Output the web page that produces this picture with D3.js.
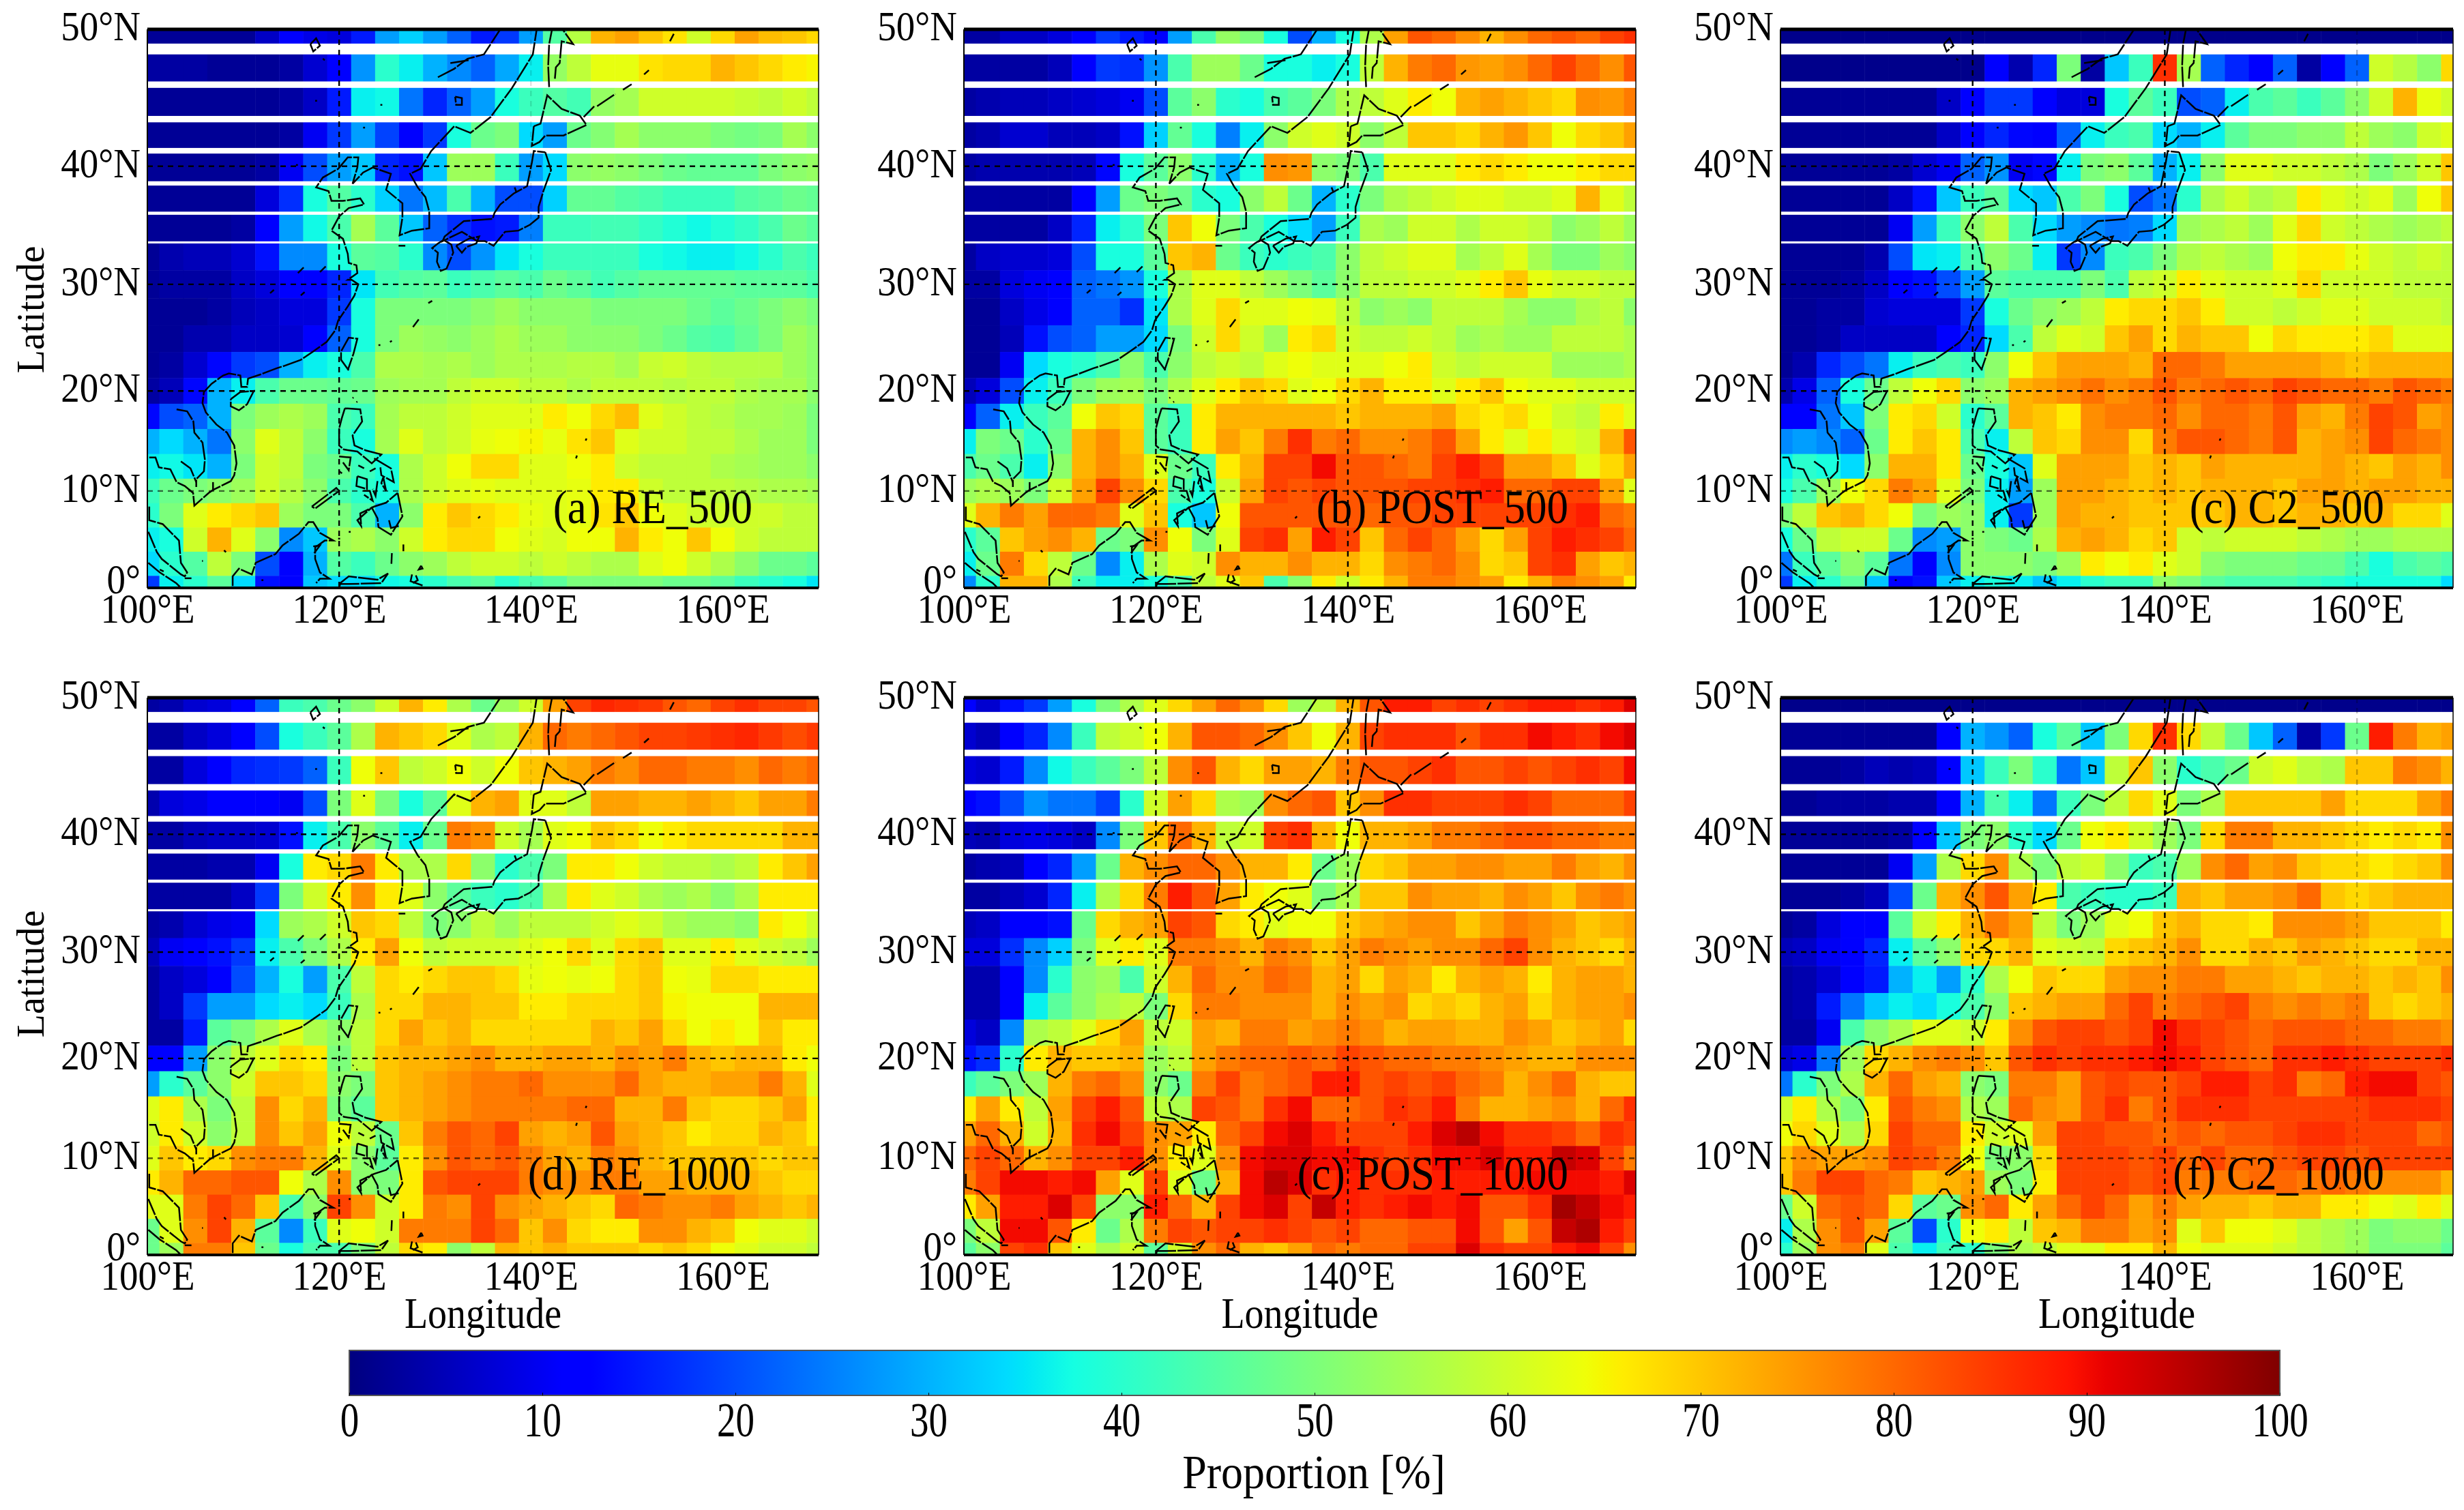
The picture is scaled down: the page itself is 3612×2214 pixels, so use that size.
<!DOCTYPE html>
<html>
<head>
<meta charset="utf-8">
<script src="https://cdn.jsdelivr.net/npm/d3@7"></script>
<style>
  body { margin: 0; background: #fff; }
  text { font-family: "Liberation Serif", serif; fill: #000; }
</style>
</head>
<body>
<svg id="chart"></svg>
<script>
// grid of the maps, one cell every 2.5 degrees
var lons = [100,102.5,105,107.5,110,112.5,115,117.5,120,122.5,125,127.5,130,132.5,135,137.5,140,142.5,145,147.5,150,152.5,155,157.5,160,162.5,165,167.5,170];
var lats = [50,47.5,45,42.5,40,37.5,35,32.5,30,27.5,25,22.5,20,17.5,15,12.5,10,7.5,5,2.5,0];

var lonTicks = [100, 120, 140, 160];
var lonLabels = ["100°E", "120°E", "140°E", "160°E"];
var latTicks = [0, 10, 20, 30, 40, 50];
var latLabels = ["0°", "10°N", "20°N", "30°N", "40°N", "50°N"];
var barTicks = [0, 10, 20, 30, 40, 50, 60, 70, 80, 90, 100];

var panelTitles = ["(a) RE_500", "(b) POST_500", "(c) C2_500", "(d) RE_1000", "(c) POST_1000", "(f) C2_1000"];

// rows run from 50N down to 0
var re500 = [
[2,2,2,2,2,6,11,9,8,15,28,33,28,22,15,18,28,45,57,72,74,70,67,60,68,74,71,70,68],
[3,3,3,2,2,2,3,7,12,27,40,36,30,26,22,29,36,53,58,63,63,67,68,68,72,70,68,66,65],
[2,2,2,2,2,2,3,6,15,36,37,24,16,22,28,38,42,45,43,53,55,60,60,60,60,59,58,60,58],
[2,2,2,2,2,2,3,10,18,28,19,12,18,38,48,50,34,28,48,51,55,52,52,52,50,49,50,55,52],
[2,2,2,2,2,3,10,20,28,32,16,14,32,54,54,42,28,34,52,53,52,50,48,47,47,47,50,52,53],
[2,2,2,2,2,8,17,38,45,40,33,24,31,44,30,20,20,33,47,47,45,44,42,42,42,45,46,48,47],
[2,2,2,2,3,12,28,37,44,55,46,32,22,17,14,15,25,42,42,43,43,41,39,37,39,41,44,48,46],
[2,4,5,5,7,14,26,26,38,46,45,40,26,20,27,35,38,42,42,42,42,38,37,36,36,37,40,44,42],
[2,3,3,3,6,8,11,12,16,35,43,45,46,42,44,46,44,48,46,43,45,47,47,47,47,46,46,46,44],
[2,2,2,3,5,6,8,8,18,38,50,50,50,50,52,54,52,52,52,50,50,50,50,48,46,48,50,52,50],
[2,2,4,4,6,6,7,11,22,38,50,54,53,52,54,56,54,54,52,52,52,50,48,45,44,47,50,54,52],
[2,3,7,13,18,20,30,36,38,44,56,56,55,56,54,56,56,56,57,57,55,59,60,58,57,57,57,54,52],
[3,5,13,30,36,44,48,48,47,48,54,55,55,58,60,60,58,58,56,58,58,58,57,58,58,56,55,55,52],
[13,20,22,30,50,54,56,54,44,42,55,58,58,60,62,62,62,66,64,68,71,62,60,58,57,55,55,54,50],
[30,34,30,24,52,62,58,52,42,38,55,62,58,60,63,64,65,63,67,70,62,60,60,58,58,56,54,54,50],
[36,37,35,30,50,60,58,50,48,42,38,56,60,64,68,68,62,62,64,66,60,58,58,58,56,55,54,54,52],
[42,48,50,52,54,60,57,52,44,40,38,56,60,62,63,62,62,62,63,66,66,60,58,58,58,57,56,56,55],
[40,50,62,66,68,70,54,50,50,44,30,52,66,70,68,66,63,62,63,67,70,64,62,60,60,60,60,58,58],
[36,38,60,72,62,52,26,32,54,56,52,60,66,68,68,64,62,61,64,64,72,66,64,70,64,60,58,58,58],
[34,40,45,58,50,20,11,30,45,42,48,52,54,58,60,60,58,60,58,56,56,62,64,60,56,52,48,48,46],
[18,36,40,46,34,14,12,32,34,34,37,38,40,44,46,40,44,46,50,50,50,50,48,48,46,42,40,38,35]
];

var post500 = [
[3,3,6,6,8,11,18,15,12,28,44,53,50,38,20,30,38,56,74,82,80,76,72,76,80,82,80,84,86],
[3,3,3,3,5,11,18,17,27,44,54,54,48,38,38,36,38,58,72,78,80,75,74,76,80,84,80,76,82],
[3,4,5,5,6,7,8,10,20,46,52,40,38,44,46,50,56,58,62,66,64,72,74,72,70,68,76,75,78],
[3,4,7,7,5,5,6,14,33,47,38,25,36,52,60,62,60,52,58,70,70,68,72,75,70,64,68,70,74],
[3,4,4,4,4,5,13,38,46,52,40,30,38,76,75,52,50,44,62,62,62,66,68,66,64,64,66,68,68],
[3,3,3,3,3,11,28,48,50,48,40,38,52,58,48,30,40,50,56,58,60,62,62,60,60,62,72,62,58],
[3,3,3,3,6,16,36,40,50,70,64,50,44,38,34,28,42,56,54,60,60,56,60,60,58,52,54,58,54],
[3,6,7,7,8,20,38,38,46,70,72,48,42,40,42,44,52,58,60,62,62,55,58,62,55,50,50,54,52],
[3,3,8,10,12,22,24,27,38,56,62,62,58,54,50,46,52,58,58,60,60,62,66,70,63,60,60,58,58],
[2,2,6,9,12,22,22,17,35,56,62,68,62,62,64,63,58,52,54,52,58,58,58,55,52,52,56,58,52],
[2,2,5,14,20,22,28,28,34,50,60,68,60,54,66,68,60,58,58,60,58,54,56,54,54,58,58,58,56],
[2,2,10,34,38,40,44,52,44,52,58,60,58,62,64,62,62,62,64,66,60,58,60,60,60,54,54,54,56],
[5,8,20,36,42,50,54,55,50,56,62,66,70,68,62,64,68,72,66,66,62,66,70,64,62,62,60,60,60],
[12,22,36,42,46,64,70,68,46,42,66,72,72,72,72,72,70,72,72,72,74,68,66,68,64,60,58,66,62],
[36,50,48,40,48,72,76,70,46,42,66,74,70,78,86,78,80,76,76,78,82,74,66,62,66,62,60,72,82],
[44,48,44,36,52,72,76,72,62,48,42,66,72,84,84,90,82,82,80,78,84,88,84,74,74,70,62,68,74],
[54,56,54,50,60,74,84,76,68,44,38,60,74,84,82,84,82,82,82,84,84,86,88,80,80,84,84,74,62],
[62,72,78,74,80,80,78,62,70,38,32,64,82,82,82,82,82,80,82,82,84,84,84,84,84,86,88,80,78],
[40,46,70,74,76,72,48,50,76,64,50,62,84,86,74,88,84,70,80,84,80,74,68,74,84,88,86,84,80],
[36,48,78,68,58,48,26,36,56,62,60,76,72,72,76,72,72,68,76,78,80,76,68,70,84,86,74,70,72],
[26,40,72,72,56,42,36,36,38,44,58,62,70,44,52,66,60,66,72,78,78,76,74,66,72,78,76,74,66]
];

var c2500 = [
[1,1,1,1,1,1,1,1,1,1,1,1,1,1,1,1,1,1,1,1,1,1,1,1,1,1,1,1,1],
[1,1,1,1,1,1,1,1,1,11,4,16,50,3,32,42,86,55,22,16,12,22,3,11,22,60,57,52,68],
[2,2,2,2,2,2,2,6,12,18,18,12,8,8,38,46,42,20,22,36,44,46,42,46,52,60,72,63,60],
[2,2,2,2,2,2,2,6,12,16,13,11,22,36,42,44,34,30,36,46,50,50,52,52,58,54,52,60,62],
[2,2,2,2,2,3,7,10,22,27,10,13,36,50,52,46,30,36,52,62,62,60,60,58,56,50,54,60,70],
[2,2,2,2,2,6,14,32,42,46,34,32,44,50,38,20,24,40,56,60,56,58,66,62,60,62,54,64,70],
[2,2,2,2,2,10,28,42,52,58,44,34,28,26,24,25,34,54,56,58,54,62,68,60,58,56,54,56,58],
[2,2,2,2,4,20,35,36,44,52,48,36,18,26,42,44,50,56,58,56,54,64,66,66,63,60,58,60,58],
[2,2,2,3,6,12,14,20,28,46,44,44,44,50,44,58,60,66,62,60,60,62,68,60,60,60,58,58,58],
[2,2,3,3,7,8,8,8,18,38,48,52,54,58,66,68,68,70,66,60,60,58,60,62,62,60,60,60,58],
[2,2,3,6,6,6,6,12,16,34,44,58,62,60,70,74,68,72,70,70,64,68,66,66,66,68,62,62,62],
[2,4,16,20,24,36,42,44,42,52,64,70,74,74,74,72,80,80,78,74,74,74,74,72,70,72,72,72,72],
[4,9,22,38,48,58,64,68,52,54,72,74,76,79,76,78,82,78,80,82,80,84,82,80,80,78,82,80,78],
[12,12,24,32,50,66,68,60,40,46,72,70,66,76,78,78,80,76,80,80,78,82,74,72,78,84,82,74,76],
[26,28,26,22,48,66,70,66,44,36,58,70,68,76,76,68,78,82,82,80,78,82,72,74,76,84,80,78,76],
[36,40,38,34,52,72,72,66,48,38,32,62,74,74,74,70,72,70,74,72,72,72,72,74,72,70,74,72,76],
[38,44,54,64,68,78,74,62,50,36,28,54,74,74,72,70,72,70,72,72,72,70,74,74,72,74,74,72,72],
[50,58,70,72,68,64,50,54,52,36,18,54,74,72,72,70,70,70,70,72,72,70,72,72,70,72,68,68,62],
[38,48,58,60,60,48,26,28,52,50,48,56,72,74,72,68,70,60,58,60,60,60,58,56,54,54,56,56,56],
[24,42,46,52,46,24,11,26,52,52,52,50,54,66,64,66,62,60,52,50,50,50,48,48,44,38,44,46,44],
[18,36,40,46,32,12,14,32,36,38,36,32,36,40,42,42,52,50,46,44,44,44,42,40,38,38,38,38,34]
];

var re1000 = [
[3,4,7,8,12,22,42,44,48,52,60,72,66,56,48,54,60,74,84,87,86,85,82,80,84,86,84,84,82],
[3,3,6,8,12,20,38,42,46,56,72,70,68,62,56,58,72,80,78,80,82,84,84,85,86,87,85,83,85],
[3,3,8,12,16,17,18,22,42,64,70,58,60,64,60,64,70,72,74,78,76,80,80,78,78,76,80,78,80],
[4,8,9,11,12,12,10,20,50,62,50,38,46,62,72,74,62,62,58,74,74,72,72,74,72,70,74,74,78],
[3,3,5,6,6,7,14,36,44,52,46,36,48,78,76,60,55,62,64,70,68,64,66,68,68,68,68,72,72],
[3,3,3,4,4,10,38,66,68,78,66,56,56,68,52,40,44,50,66,66,64,60,58,58,56,58,66,70,74],
[3,3,3,3,6,18,50,60,66,76,66,62,52,46,42,40,44,56,66,62,60,56,54,56,52,56,66,66,66],
[3,4,7,9,10,34,54,56,60,70,68,58,50,52,58,54,58,58,58,60,62,60,56,54,54,52,66,64,60],
[5,10,12,14,18,36,44,50,56,66,74,64,58,60,60,60,62,64,68,62,68,70,62,62,66,62,60,58,54],
[3,6,8,12,20,30,38,28,44,58,68,66,68,70,70,68,63,64,63,64,68,70,64,63,68,68,66,66,66],
[3,6,18,28,28,34,36,34,42,56,68,68,72,72,70,70,66,66,68,68,68,70,65,64,64,64,72,72,72],
[3,3,15,46,50,56,62,56,52,58,68,74,70,72,68,68,68,68,68,72,70,74,68,64,66,64,70,66,66],
[11,11,28,52,58,62,68,66,50,58,70,72,72,74,76,72,72,74,74,72,76,74,78,72,70,72,72,66,64],
[28,40,46,52,60,70,70,68,52,50,70,72,74,76,78,78,80,76,76,76,80,74,72,72,74,74,78,72,62],
[62,66,56,50,58,76,68,72,50,46,70,72,74,76,78,78,78,78,80,80,72,72,78,70,68,68,70,74,66],
[60,66,60,52,58,76,70,74,64,58,48,70,78,82,80,84,74,72,74,82,74,72,70,66,68,68,72,70,66],
[62,70,66,68,76,78,78,72,62,52,46,66,76,82,80,82,78,74,72,78,76,72,70,70,70,70,68,70,70],
[66,72,80,80,82,82,64,56,76,52,50,66,82,84,84,84,78,76,76,78,78,74,74,72,72,72,70,68,68],
[62,62,78,84,80,70,44,52,84,76,60,66,78,76,84,76,74,72,70,68,80,78,76,76,78,74,72,70,72],
[48,62,76,84,72,46,26,42,62,64,60,78,78,78,84,80,70,76,68,66,66,76,76,72,70,64,62,62,60],
[48,54,78,78,70,48,38,44,44,50,58,68,66,52,58,72,70,72,70,70,70,68,70,68,64,62,60,60,58]
];

var post1000 = [
[12,7,14,18,28,38,50,56,62,68,74,80,76,68,54,58,72,82,88,88,84,86,84,86,88,88,86,88,92],
[7,5,11,16,26,42,58,60,64,72,82,82,80,76,70,64,72,84,86,86,86,82,86,86,90,88,86,90,92],
[8,7,15,26,37,42,46,50,58,76,82,72,68,74,74,72,78,82,82,84,86,82,82,84,82,84,86,84,90],
[12,14,20,27,24,24,19,40,60,74,68,56,54,76,80,82,70,76,86,86,84,84,84,86,84,80,80,80,84],
[5,4,8,9,8,6,26,50,70,80,72,58,60,84,86,72,64,72,72,74,78,78,80,82,82,80,80,78,78],
[3,4,5,11,16,28,48,72,76,80,80,76,72,72,66,48,54,68,70,74,74,76,76,74,74,78,74,72,76],
[3,3,5,7,16,36,56,68,78,88,82,74,66,64,62,50,56,70,70,76,74,74,72,76,74,70,76,78,76],
[5,6,11,11,14,48,68,72,74,84,82,68,66,62,64,64,70,72,74,76,76,70,74,78,76,74,70,72,74],
[8,8,17,26,33,50,62,66,62,78,78,76,72,78,76,70,74,78,76,74,76,76,80,84,76,72,70,68,72],
[4,4,12,26,40,52,54,44,60,72,80,76,76,80,78,72,74,68,74,72,66,72,74,72,66,72,74,74,72],
[4,4,12,36,46,52,56,58,50,68,78,78,76,76,76,72,76,74,76,68,70,68,72,74,68,72,74,74,76],
[8,6,26,56,58,62,68,74,58,60,74,72,78,78,74,76,78,76,72,74,74,72,72,76,74,70,72,74,68],
[14,17,40,66,72,70,70,72,54,58,74,78,80,80,82,80,84,82,80,80,78,78,76,74,72,72,76,76,76],
[42,46,50,54,72,78,80,76,52,48,78,84,78,80,82,88,88,82,84,82,84,80,78,72,76,80,72,70,70],
[66,74,66,58,74,84,88,82,58,56,84,82,78,86,90,80,80,82,86,84,88,78,72,72,74,76,72,80,86],
[74,80,72,60,72,86,90,84,76,74,66,80,84,90,92,88,84,84,84,88,92,95,90,86,86,84,80,86,84],
[80,84,80,72,76,84,84,88,76,66,62,76,90,92,92,90,90,86,84,86,90,90,92,88,88,94,92,84,78],
[78,84,90,90,88,90,74,62,84,62,48,72,90,95,92,86,88,86,86,86,88,88,88,88,90,90,90,88,92],
[66,74,88,88,92,84,52,52,88,80,72,84,90,92,84,94,88,86,88,90,88,90,82,82,86,97,94,90,88],
[50,58,90,90,82,66,48,56,78,84,82,84,84,86,84,82,84,80,80,82,82,90,82,74,82,94,96,88,84],
[46,52,84,86,70,62,56,60,46,60,76,80,72,70,74,80,78,80,80,84,84,92,86,84,84,88,90,84,76]
];

var c21000 = [
[1,1,1,1,1,1,1,1,1,1,1,1,1,1,1,1,1,1,1,1,1,1,1,1,1,1,1,1,1],
[2,2,2,2,2,2,2,12,30,27,22,38,46,32,50,68,86,68,58,48,32,22,3,18,48,88,78,72,74],
[2,2,2,3,5,4,5,12,32,42,50,40,24,32,58,70,52,40,44,48,60,62,58,56,70,70,78,76,72],
[2,2,3,3,3,4,4,12,30,44,36,24,42,50,58,68,62,50,56,70,70,70,70,74,68,68,68,74,78],
[2,2,2,2,2,3,12,32,50,52,40,34,48,64,66,60,54,50,68,78,78,72,72,70,68,66,68,66,76],
[2,2,2,2,2,10,28,56,68,76,56,50,58,60,52,42,44,54,76,80,74,76,70,68,68,66,68,70,76],
[2,2,2,3,5,20,48,72,76,82,74,66,44,42,40,40,42,72,70,74,74,76,80,70,68,70,72,72,72],
[2,3,8,11,12,46,60,66,72,78,74,58,50,54,62,64,70,72,68,68,66,76,76,76,74,70,70,70,66],
[5,6,10,12,16,36,46,52,68,68,72,62,60,58,68,70,72,76,68,68,72,70,74,72,70,68,68,72,72],
[3,4,7,11,15,30,36,28,40,56,64,70,68,68,74,76,76,78,78,74,74,72,70,72,72,70,72,70,76],
[3,4,15,24,32,36,34,38,44,52,70,72,74,74,80,84,78,80,82,84,78,76,78,76,78,70,68,70,72],
[3,3,10,44,52,56,62,62,60,66,76,82,84,84,82,84,90,86,84,82,80,82,82,82,80,80,78,78,76],
[7,9,24,54,68,72,76,78,76,70,82,86,84,86,86,88,90,88,84,82,80,86,86,88,86,84,84,84,86],
[24,40,50,56,72,80,74,72,52,50,78,78,74,82,84,82,82,84,88,88,84,86,78,80,88,90,90,84,82],
[60,66,56,50,66,82,78,76,56,54,80,76,74,82,86,78,82,86,86,86,84,84,84,84,84,86,86,86,84],
[64,68,62,56,68,84,80,80,66,60,62,74,84,84,82,82,80,82,80,82,82,84,86,86,84,84,84,80,82],
[70,76,74,74,76,84,82,78,64,50,52,68,84,84,84,82,84,80,84,80,80,82,84,84,82,84,84,84,84],
[70,78,84,84,80,78,70,72,74,54,50,66,84,84,84,82,84,78,78,78,80,80,78,80,78,76,76,76,72],
[48,60,80,82,80,68,46,48,76,80,66,74,80,84,80,74,78,74,72,72,70,72,72,66,66,64,62,66,62],
[36,56,76,82,74,46,20,40,64,66,58,70,72,78,78,74,76,62,70,64,64,62,58,56,54,50,52,52,48],
[40,54,76,78,62,44,36,42,40,50,56,58,62,62,66,66,72,64,62,62,62,60,58,56,54,50,50,50,46]
];

var panelValues = [re500, post500, c2500, re1000, post1000, c21000];

// latitude bands left white, no data there
var stripeBottoms = [48.3, 45.94, 43.4, 41.0, 38.45, 36.04, 33.6];
var stripeTops = [49.04, 46.4, 43.88, 41.44, 38.8, 36.3, 33.78];

// jet colours along the colour bar
var colorStops = [0, 11, 12.5, 34, 35, 37.5, 64, 65, 66, 89, 91, 100];
var colorList = ["#00007f", "#0000ff", "#0000ff", "#00dbff", "#00e6f7", "#15ffe2", "#efff08", "#f7f600", "#ffec00", "#ff1300", "#e80000", "#800000"];

// coastlines, [lon, lat]
var coasts = [
 // thai gulf, indochina, china, korea, russia
 [[100.2,13.4],[100.85,13.4],[101.2,12.4],[102.4,12.2],[103.05,10.9],[103.9,10.5],[104.77,9.8],[104.9,8.5],[106.4,9.8],[106.85,10.1],[108.7,11.0],[109.06,11.6],[109.3,12.8],[109.06,14.6],[108.3,15.9],[107.2,16.7],[106.1,17.9],[105.75,18.8],[105.9,19.9],[106.7,20.7],[107.9,21.5],[108.5,21.7],[109.7,21.5],[109.8,20.4],[110.4,20.4],[110.5,21.2],[111.8,21.6],[113.5,22.2],[114.2,22.4],[116.0,23.0],[117.3,23.8],[118.7,24.7],[119.6,25.8],[119.9,26.7],[120.9,28.0],[121.6,29.0],[122.0,30.0],[121.3,30.4],[120.9,30.4],[121.9,31.0],[121.8,31.7],[121.0,31.9],[120.9,32.7],[120.4,34.0],[119.2,34.7],[120.0,35.9],[121.0,36.6],[122.6,36.9],[122.2,37.4],[120.4,37.2],[119.2,37.2],[118.9,38.0],[117.6,38.3],[118.3,39.1],[119.9,39.8],[120.9,40.7],[122.0,40.7],[121.9,39.9],[121.4,38.6],[122.5,39.5],[123.5,39.9],[125.4,39.4],[124.9,38.1],[126.6,37.0],[126.6,35.8],[126.3,34.3],[127.6,34.7],[129.4,34.9],[129.4,36.3],[129.0,37.5],[128.2,38.3],[127.4,39.4],[128.5,39.8],[129.6,41.2],[132.0,43.1],[133.7,42.6],[135.8,43.8],[138.0,45.9],[140.2,48.3],[140.6,50.0]],
 // malay peninsula
 [[100.2,8.4],[100.2,7.0],[101.6,6.6],[103.3,4.9],[103.5,2.6],[104.15,1.6],[103.9,1.2],[103.5,1.4],[101.5,3.0],[101.0,3.7],[100.1,5.8]],
 // sakhalin
 [[141.9,46.0],[141.8,47.5],[141.9,49.0],[142.2,50.0]],
 [[142.5,46.6],[142.6,47.4],[143.0,47.7],[143.2,49.2],[144.4,49.0],[143.3,50.0]],
 // hokkaido
 [[140.3,43.1],[141.0,43.3],[141.7,45.4],[143.2,44.4],[145.1,43.9],[145.8,43.2],[143.4,42.4],[141.5,42.4],[140.9,41.9],[140.1,41.6],[140.3,43.1]],
 // honshu
 [[141.5,41.1],[142.1,39.7],[141.3,38.0],[140.8,36.7],[140.8,35.8],[139.9,35.2],[138.7,34.7],[137.3,34.6],[136.1,33.4],[135.2,33.8],[134.4,33.8],[132.8,34.6],[130.8,33.8],[131.0,34.2],[133.0,35.5],[136.0,35.7],[136.2,36.2],[136.8,36.9],[138.2,37.8],[139.6,38.4],[140.1,40.3],[140.3,41.2],[141.5,41.1]],
 // shikoku
 [[132.2,33.4],[133.5,34.0],[134.6,34.2],[134.3,33.6],[133.3,33.3],[132.8,32.8],[132.2,33.4]],
 // kyushu
 [[130.9,33.9],[131.7,33.5],[131.9,32.8],[131.2,31.4],[130.6,31.2],[130.2,32.0],[130.3,32.8],[129.7,33.2],[130.3,33.6],[130.9,33.9]],
 [[138.3,38.3],[138.5,37.9]],
 [[126.2,33.4],[126.9,33.4]],
 // kurils
 [[145.5,43.8],[146.6,44.6]],
 [[146.9,44.6],[148.8,45.5]],
 [[149.6,45.8],[150.5,46.2]],
 [[151.8,46.9],[152.3,47.2]],
 [[154.5,49.2],[154.9,49.7]],
 // ryukyu
 [[129.3,28.3],[129.7,28.5]],
 [[127.7,26.1],[128.3,26.8]],
 [[124.1,24.4],[124.3,24.4]],
 [[125.3,24.7],[125.5,24.8]],
 // taiwan
 [[121.0,22.0],[120.2,23.0],[120.2,23.8],[121.0,25.1],[121.9,25.0],[121.5,23.6],[120.9,22.0]],
 // hainan
 [[108.7,19.2],[109.7,19.9],[111.1,20.0],[110.4,18.7],[109.55,18.1],[108.7,18.5],[108.7,19.2]],
 // luzon
 [[120.6,18.3],[122.2,18.2],[122.4,17.0],[121.4,15.6],[121.6,14.6],[122.8,14.1],[124.4,13.7],[123.4,12.8],[121.9,14.0],[120.5,14.2],[120.0,14.6],[120.0,16.3],[120.3,17.4],[120.6,18.3]],
 [[121.4,19.3],[121.5,19.35]],
 [[121.8,18.9],[121.9,18.95]],
 // visayas
 [[120.0,13.5],[121.2,13.4],[121.0,12.1],[120.4,12.9]],
 [[120.0,12.0],[120.3,11.8]],
 [[121.9,11.5],[122.9,11.2],[122.9,10.2],[121.8,10.5],[121.9,11.5]],
 [[122.5,10.0],[123.2,10.0],[123.5,9.0],[122.6,9.6]],
 [[124.0,11.0],[123.8,9.5],[123.5,10.2]],
 [[124.6,11.4],[124.9,10.0],[124.4,10.8],[124.6,11.4]],
 [[123.65,13.3],[125.4,12.3],[125.7,10.9],[124.4,11.6],[124.3,12.4]],
 [[122.0,12.6],[122.6,12.3]],
 [[123.2,12.0],[123.8,12.3]],
 // mindanao
 [[126.1,9.8],[126.6,7.4],[125.4,5.5],[124.1,6.3],[124.0,7.2],[123.4,8.3],[121.9,7.0],[122.3,6.4],[122.2,7.7],[123.65,8.4],[124.9,8.8],[126.1,9.8]],
 [[125.2,7.0],[125.4,6.2],[126.2,6.4]],
 // palawan
 [[117.15,8.4],[119.7,10.3],[120.0,10.0],[117.5,8.2],[117.15,8.4]],
 // borneo
 [[108.9,0.2],[108.9,1.2],[109.55,2.0],[110.9,1.4],[111.3,2.6],[113.35,3.5],[114.1,4.4],[115.8,5.6],[116.8,6.8],[117.3,6.8],[118.0,5.7],[119.4,4.9],[118.5,4.9],[117.5,4.2],[117.5,3.0],[118.0,1.6],[119.0,0.95],[118.0,0.95],[117.6,0.5]],
 [[117.3,4.3],[118.0,4.4],[117.4,3.6]],
 // sulawesi
 [[120.0,0.4],[121.0,1.2],[124.0,0.85],[125.1,1.5],[124.4,0.5],[121.0,0.4],[120.0,0.4]],
 [[120.0,0.0],[120.1,0.4]],
 // halmahera
 [[128.55,2.3],[128.7,2.0],[128.3,1.9],[128.55,2.3]],
 [[127.6,1.4],[127.45,0.7],[128.7,0.25]],
 [[128.0,1.3],[128.2,0.8],[127.7,0.5]],
 // sumatra
 [[100.1,2.6],[101.3,1.6],[103.0,0.5],[103.5,0.0]],
 [[103.9,1.0],[104.6,1.0]],
 [[101.3,1.9],[101.7,1.7]],
 // mekong, tonle sap
 [[103.05,18.2],[104.15,18.0],[104.8,17.0],[104.9,15.9],[105.75,14.9],[106.0,13.2],[105.9,12.0],[105.1,11.2],[105.1,10.4]],
 [[103.5,13.0],[104.5,12.3],[105.1,10.9]],
 [[106.85,10.1],[106.85,10.9]],
 // lakes, amur
 [[117.0,49.0],[117.6,49.4],[118.0,48.9],[117.3,48.5],[117.0,49.0]],
 [[132.1,45.3],[132.8,45.2],[132.8,44.7],[132.2,44.7],[132.1,45.3]],
 [[130.3,46.7],[132.0,47.3],[133.4,48.0],[135.1,48.3],[136.8,50.0]],
 [[131.6,47.7],[133.5,47.9]],
 // small islands
 [[108.0,3.9],[108.2,3.7]],
 [[105.7,2.8],[105.8,2.8]],
 [[121.0,5.8],[121.2,5.8]],
 [[119.9,5.1],[120.1,5.1]],
 [[126.7,4.5],[126.7,3.8]],
 [[125.5,3.6],[125.45,2.5]],
 [[111.9,0.8],[112.1,0.8]],
 [[145.7,15.1],[145.8,15.3]],
 [[144.7,13.3],[144.8,13.6]],
 [[134.5,7.2],[134.7,7.4]],
 [[158.2,6.9],[158.3,6.9]],
 [[118.3,48.0],[118.5,47.9]],
 [[117.5,45.0],[117.7,45.0]],
 [[124.3,44.7],[124.5,44.7]],
 [[122.5,43.0],[122.7,43.0]],
 [[115.5,40.1],[115.7,40.1]],
 [[118.0,31.1],[118.6,31.6]],
 [[115.7,31.0],[116.3,31.5]],
 [[112.8,29.2],[113.2,29.5]],
 [[116.0,29.0],[116.4,29.3]]
];

var panelLefts = [216, 1413, 2610, 216, 1413, 2610];
var panelRights = [1200, 2398, 3596, 1200, 2398, 3596];
var panelTops = [43, 43, 43, 1023, 1023, 1023];
var panelBottoms = [862, 862, 862, 1840, 1840, 1840];
var titleRights = [1103, 2299, 3495, 1101, 2299, 3495];
var titleBaselines = [767, 767, 767, 1744, 1744, 1744];
// how strong the meridians show in each panel (120E, 140E, 160E)
var lonLineOpacity = [[1, 0.12, 0], [1, 1, 0], [1, 1, 0.25], [1, 0.12, 0], [1, 1, 0], [1, 1, 0.25]];
var latLineOpacity = [0.6, 1, 1, 1];
var textStretch = 1.13;

var svg = d3.select("#chart").attr("width", 3612).attr("height", 2214);

function merc(lat) {
    return Math.log(Math.tan(Math.PI / 4 + lat * Math.PI / 360));
}

var colorScale = d3.scaleLinear().domain(colorStops).range(colorList).clamp(true);

panelValues.forEach(function(values, p) {
    var g = svg.append("g").attr("transform", "translate(" + panelLefts[p] + "," + panelTops[p] + ")");
    var w = panelRights[p] - panelLefts[p];
    var h = panelBottoms[p] - panelTops[p];

    var xScale = d3.scaleLinear().domain([100, 170]).range([0, w]);
    var yMerc = d3.scaleLinear().domain([0, merc(50)]).range([h, 0]);
    var yScale = function(lat) { return yMerc(merc(lat)); };

    svg.append("clipPath").attr("id", "clip" + p)
        .append("rect").attr("width", w).attr("height", h);

    var plot = g.append("g").attr("clip-path", "url(#clip" + p + ")");

    lats.forEach(function(lat, r) {
        plot.append("g").selectAll("rect")
            .data(values[r])
            .enter()
            .append("rect")
            .attr("x", function(d, i) { return xScale(lons[i] - 1.25); })
            .attr("width", function(d, i) { return xScale(lons[i] + 1.25) - xScale(lons[i] - 1.25) + 0.5; })
            .attr("y", yScale(Math.min(lat + 1.25, 50)))
            .attr("height", yScale(Math.max(lat - 1.25, 0)) - yScale(Math.min(lat + 1.25, 50)) + 0.5)
            .attr("fill", function(d) { return colorScale(d); });
    });

    // white gaps
    plot.append("g").selectAll("rect")
        .data(stripeTops)
        .enter()
        .append("rect")
        .attr("x", 0)
        .attr("width", w)
        .attr("y", function(d) { return yScale(d); })
        .attr("height", function(d, i) { return yScale(stripeBottoms[i]) - yScale(d); })
        .attr("fill", "#fff");

    // coast
    var line = d3.line()
        .x(function(d) { return xScale(d[0]); })
        .y(function(d) { return yScale(d[1]); });
    plot.append("g").selectAll("path")
        .data(coasts)
        .enter()
        .append("path")
        .attr("d", line)
        .attr("fill", "none")
        .attr("stroke", "#000")
        .attr("stroke-width", 2.5)
        .attr("stroke-dasharray", "30,2");

    // dashed graticule
    plot.append("g").selectAll("line")
        .data(lonTicks.slice(1).map(function(d, i) { return [d, lonLineOpacity[p][i]]; }))
        .enter()
        .append("line")
        .attr("x1", function(d) { return xScale(d[0]); })
        .attr("x2", function(d) { return xScale(d[0]); })
        .attr("y1", 0)
        .attr("y2", h)
        .attr("stroke", "#000")
        .attr("stroke-opacity", function(d) { return d[1]; })
        .attr("stroke-width", 2.4)
        .attr("stroke-dasharray", "8,7");
    plot.append("g").selectAll("line")
        .data(latTicks.slice(1, 5))
        .enter()
        .append("line")
        .attr("x1", 0)
        .attr("x2", w)
        .attr("y1", function(d) { return yScale(d); })
        .attr("y2", function(d) { return yScale(d); })
        .attr("stroke", "#000")
        .attr("stroke-opacity", function(d, i) { return latLineOpacity[i]; })
        .attr("stroke-width", 2.4)
        .attr("stroke-dasharray", "8,7");

    // frame
    g.append("line").attr("x1", 0).attr("x2", w).attr("y1", 0).attr("y2", 0).attr("stroke", "#000").attr("stroke-width", 5);
    g.append("line").attr("x1", 0).attr("x2", w).attr("y1", h).attr("y2", h).attr("stroke", "#000").attr("stroke-width", 4);
    g.append("line").attr("x1", 0).attr("x2", 0).attr("y1", 0).attr("y2", h).attr("stroke", "#000").attr("stroke-width", 2);
    g.append("line").attr("x1", w).attr("x2", w).attr("y1", 0).attr("y2", h).attr("stroke", "#000").attr("stroke-width", 1.5);

    // axes
    var xAxis = d3.axisBottom(xScale)
        .tickValues(lonTicks)
        .tickFormat(function(d, i) { return lonLabels[i]; })
        .tickSize(0)
        .tickPadding(6);
    var gx = g.append("g").attr("transform", "translate(0," + h + ")").call(xAxis);
    gx.select(".domain").remove();
    gx.selectAll("text")
        .attr("font-size", 55)
        .attr("font-family", "Liberation Serif")
        .attr("transform", "scale(1," + textStretch + ")");

    var yAxis = d3.axisLeft(yMerc)
        .tickValues(latTicks.map(merc))
        .tickFormat(function(d, i) { return latLabels[i]; })
        .tickSize(0)
        .tickPadding(10);
    var gy = g.append("g").call(yAxis);
    gy.select(".domain").remove();
    gy.selectAll("text")
        .attr("font-size", 55)
        .attr("font-family", "Liberation Serif")
        .attr("dy", function(d, i) { return i == 0 ? "0.12em" : "0.25em"; })
        .attr("transform", "scale(1," + textStretch + ")");

    g.append("text")
        .attr("transform", "translate(" + (titleRights[p] - panelLefts[p]) + "," + (titleBaselines[p] - panelTops[p]) + ") scale(1,1.1)")
        .attr("text-anchor", "end")
        .attr("font-size", 63)
        .text(panelTitles[p]);

    if (p % 3 == 0) {
        svg.append("text")
            .attr("transform", "translate(64," + (p == 0 ? 454 : 1428) + ") rotate(-90)")
            .attr("text-anchor", "middle")
            .attr("font-size", 56)
            .text("Latitude");
    }
    if (p >= 3) {
        svg.append("text")
            .attr("transform", "translate(" + (panelLefts[p] + w * 0.5) + ",1947) scale(1," + textStretch + ")")
            .attr("text-anchor", "middle")
            .attr("font-size", 56)
            .text("Longitude");
    }
});

// colour bar
var barScale = d3.scaleLinear().domain([0, 100]).range([512, 3342]);
var barTop = 1980, barBottom = 2046;

var grad = svg.append("defs").append("linearGradient").attr("id", "jetBar");
grad.selectAll("stop")
    .data(colorStops)
    .enter()
    .append("stop")
    .attr("offset", function(d) { return d + "%"; })
    .attr("stop-color", function(d, i) { return colorList[i]; });

svg.append("rect")
    .attr("x", barScale(0))
    .attr("y", barTop)
    .attr("width", barScale(100) - barScale(0))
    .attr("height", barBottom - barTop)
    .attr("fill", "url(#jetBar)")
    .attr("stroke", "#555")
    .attr("stroke-width", 2);

var barAxis = d3.axisBottom(barScale)
    .tickValues(barTicks)
    .tickSize(-4)
    .tickPadding(7);
var gb = svg.append("g").attr("transform", "translate(0," + barBottom + ")").call(barAxis);
gb.select(".domain").remove();
gb.selectAll("text")
    .attr("font-size", 55)
    .attr("font-family", "Liberation Serif")
    .attr("y", 7)
    .attr("transform", "scale(1,1.3)");

svg.append("text")
    .attr("transform", "translate(1926,2182) scale(1,1.1)")
    .attr("text-anchor", "middle")
    .attr("font-size", 64)
    .text("Proportion [%]");
</script>
</body>
</html>
